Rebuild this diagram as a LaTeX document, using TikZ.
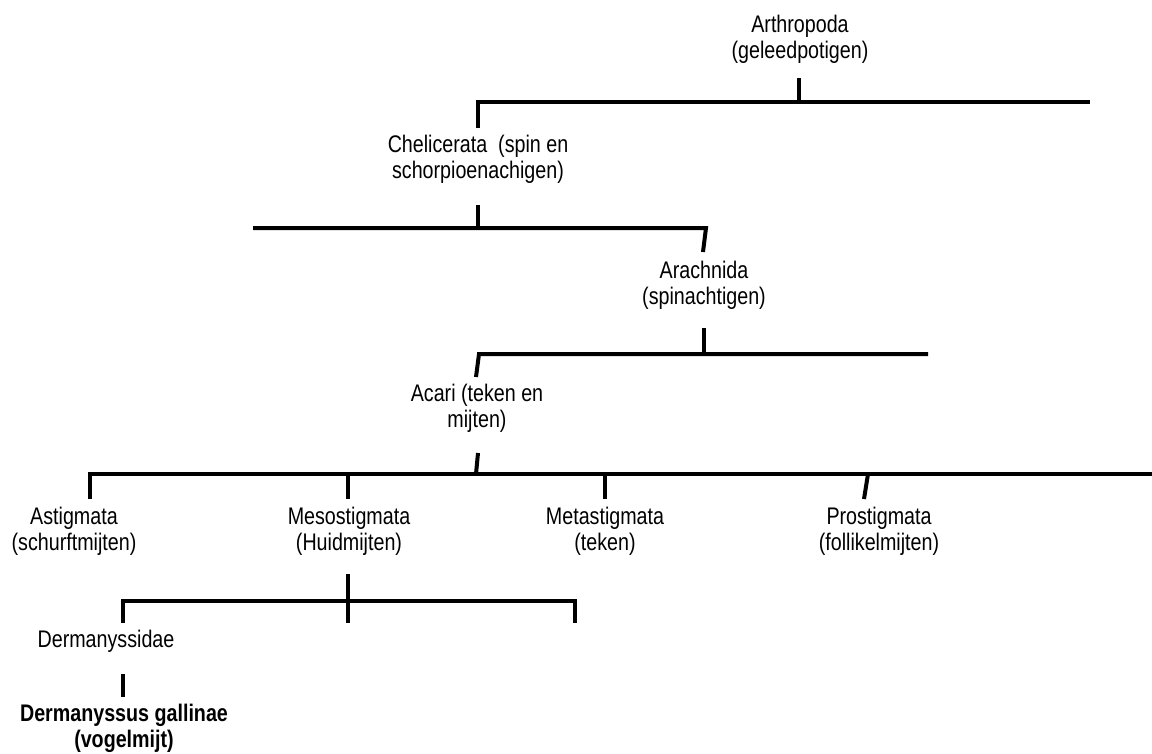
\documentclass[tikz,border=0pt]{standalone}
\usepackage{fontspec}
\setmainfont[FakeStretch=0.82]{Liberation Sans}
\begin{document}
\begin{tikzpicture}[x=0.75pt,y=-0.75pt,
  lbl/.style={align=center,inner sep=0pt,text=black,font=\fontsize{18}{19.5}\selectfont},
  boldlbl/.style={lbl,font=\bfseries\fontsize{18}{19.5}\selectfont},
  branch/.style={line width=3pt,line join=miter,line cap=butt}]
\useasboundingbox (0,0) rectangle (1152,753);

% labels
\node[lbl] (arth)  at (800,38.8)  {Arthropoda\\(geleedpotigen)};
\node[lbl] (chel)  at (478,159.3) {Chelicerata\ \ (spin en\\schorpioenachigen)};
\node[lbl] (arach) at (704,285)   {Arachnida\\(spinachtigen)};
\node[lbl] (acari) at (477,408.3) {Acari (teken en\\mijten)};
\node[lbl] (asti)  at (74,530.8)  {Astigmata\\(schurftmijten)};
\node[lbl] (meso)  at (349,530.8) {Mesostigmata\\(Huidmijten)};
\node[lbl] (meta)  at (605,530.8) {Metastigmata\\(teken)};
\node[lbl] (pros)  at (879,530.8) {Prostigmata\\(follikelmijten)};
\node[lbl] (derm)  at (106,640.8) {Dermanyssidae};
\node[boldlbl] (dg) at (124,728.3) {Dermanyssus gallinae\\(vogelmijt)};

% connector points
\coordinate (arthT) at (799,78);   \coordinate (arthB) at (799,102);
\coordinate (h1L) at (478,102);    \coordinate (h1R) at (1090,102);
\coordinate (chelT) at (478,128);
\coordinate (chelB1) at (478,205); \coordinate (chelB2) at (478,228);
\coordinate (h2L) at (253,228);    \coordinate (h2R) at (706,228);
\coordinate (arachT) at (703,252);
\coordinate (arachB1) at (704,328); \coordinate (arachB2) at (704,354);
\coordinate (h3L) at (479,354);    \coordinate (h3R) at (928,354);
\coordinate (acariT) at (476,377);
\coordinate (acariB1) at (478,453); \coordinate (acariB2) at (476,474);
\coordinate (h4L) at (90,474);     \coordinate (h4R) at (1152,474);
\coordinate (astiT) at (90,499);
\coordinate (mesoJ) at (348,474);  \coordinate (mesoT) at (348,499);
\coordinate (metaJ) at (605,474);  \coordinate (metaT) at (605,499);
\coordinate (prosJ) at (868,474);  \coordinate (prosT) at (864,499);
\coordinate (mesoB1) at (348,574); \coordinate (mesoB2) at (348,623);
\coordinate (h5L) at (123,601);    \coordinate (h5R) at (575,601);
\coordinate (dermT) at (123,623);  \coordinate (rT) at (575,623);
\coordinate (dermB1) at (123,674); \coordinate (dermB2) at (123,697);

% connectors
\draw[branch] (arthT) -- (arthB);
\draw[branch] (chelT) -- (h1L) -- (h1R);
\draw[branch] (chelB1) -- (chelB2);
\draw[branch] (h2L) -- (h2R) -- (arachT);
\draw[branch] (arachB1) -- (arachB2);
\draw[branch] (h3R) -- (h3L) -- (acariT);
\draw[branch] (acariB1) -- (acariB2);
\draw[branch] (astiT) -- (h4L) -- (h4R);
\draw[branch] (mesoJ) -- (mesoT);
\draw[branch] (metaJ) -- (metaT);
\draw[branch] (prosJ) -- (prosT);
\draw[branch] (mesoB1) -- (mesoB2);
\draw[branch] (dermT) -- (h5L) -- (h5R) -- (rT);
\draw[branch] (dermB1) -- (dermB2);
\end{tikzpicture}
\end{document}
